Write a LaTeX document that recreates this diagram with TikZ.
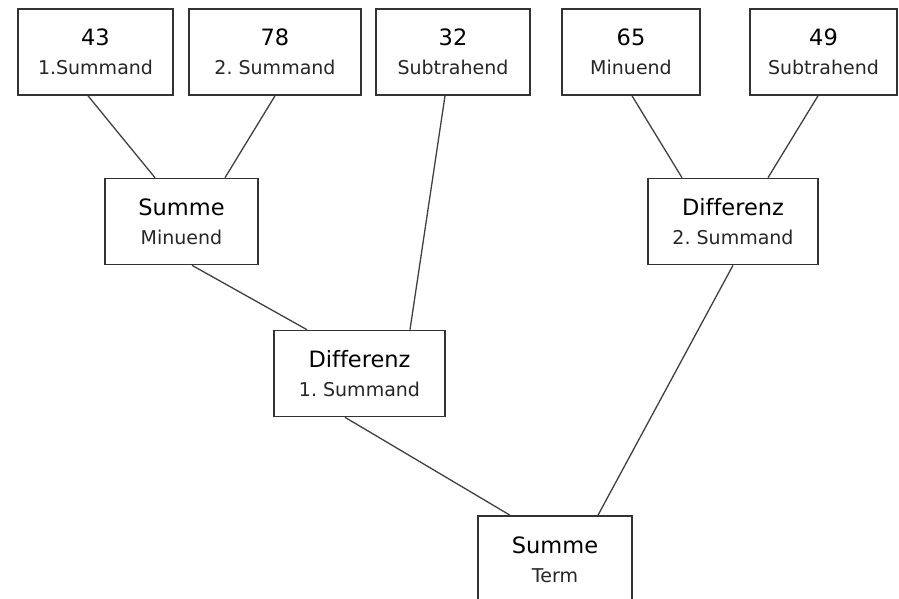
\documentclass[tikz,border=0pt]{standalone}
\usepackage{fontspec}
\setmainfont{DejaVu Sans}[Ligatures=NoCommon]
\frenchspacing
\usetikzlibrary{positioning}

\newcommand{\termbox}[2]{{\fontsize{22.5}{29}\selectfont #1}\\{\color{black!85}#2}}

\begin{document}
\begin{tikzpicture}[x=1pt, y=-1pt,
    box/.style={draw=black!80, line width=1.6pt, fill=white, align=center,
      minimum height=86pt, inner sep=0pt, text=black,
      font=\fontsize{19}{29}\selectfont},
    link/.style={draw=black!75, line width=1.3pt}]
  \clip (0,0) rectangle (899,598);
  % first row: the numbers
  \node[box, minimum width=155pt] (n43) at (95.5,52) {\termbox{43}{1.Summand}};
  \node[box, minimum width=172pt] (n78) at (275,52) {\termbox{78}{2. Summand}};
  \node[box, minimum width=154pt] (n32) at (453,52) {\termbox{32}{Subtrahend}};
  \node[box, minimum width=138pt] (n65) at (631,52) {\termbox{65}{Minuend}};
  \node[box, minimum width=147pt] (n49) at (823.5,52) {\termbox{49}{Subtrahend}};
  % second row
  \node[box, minimum width=153pt] (summeA) at (181.5,221.5) {\termbox{Summe}{Minuend}};
  \node[box, minimum width=170pt] (diffB) at (733,221.5) {\termbox{Differenz}{2. Summand}};
  % third row
  \node[box, minimum width=171pt] (diffA) at (359.5,373.5) {\termbox{Differenz}{1. Summand}};
  % the whole term
  \node[box, minimum width=154pt, minimum height=87pt] (term) at (555,559.5) {\termbox{Summe}{Term}};
  % branches
  \draw[link] ([xshift=-7.5pt]n43.south) -- ([xshift=-26.5pt]summeA.north);
  \draw[link] (n78.south) -- ([xshift=43.5pt]summeA.north);
  \draw[link] ([xshift=1pt]n65.south) -- ([xshift=-51pt]diffB.north);
  \draw[link] ([xshift=-5.5pt]n49.south) -- ([xshift=35pt]diffB.north);
  \draw[link] ([xshift=10.5pt]summeA.south) -- ([xshift=-52.5pt]diffA.north);
  \draw[link] ([xshift=-8pt]n32.south) -- ([xshift=50.5pt]diffA.north);
  \draw[link] ([xshift=-14.5pt]diffA.south) -- ([xshift=-45pt]term.north);
  \draw[link] (diffB.south) -- ([xshift=43pt]term.north);
\end{tikzpicture}
\end{document}
